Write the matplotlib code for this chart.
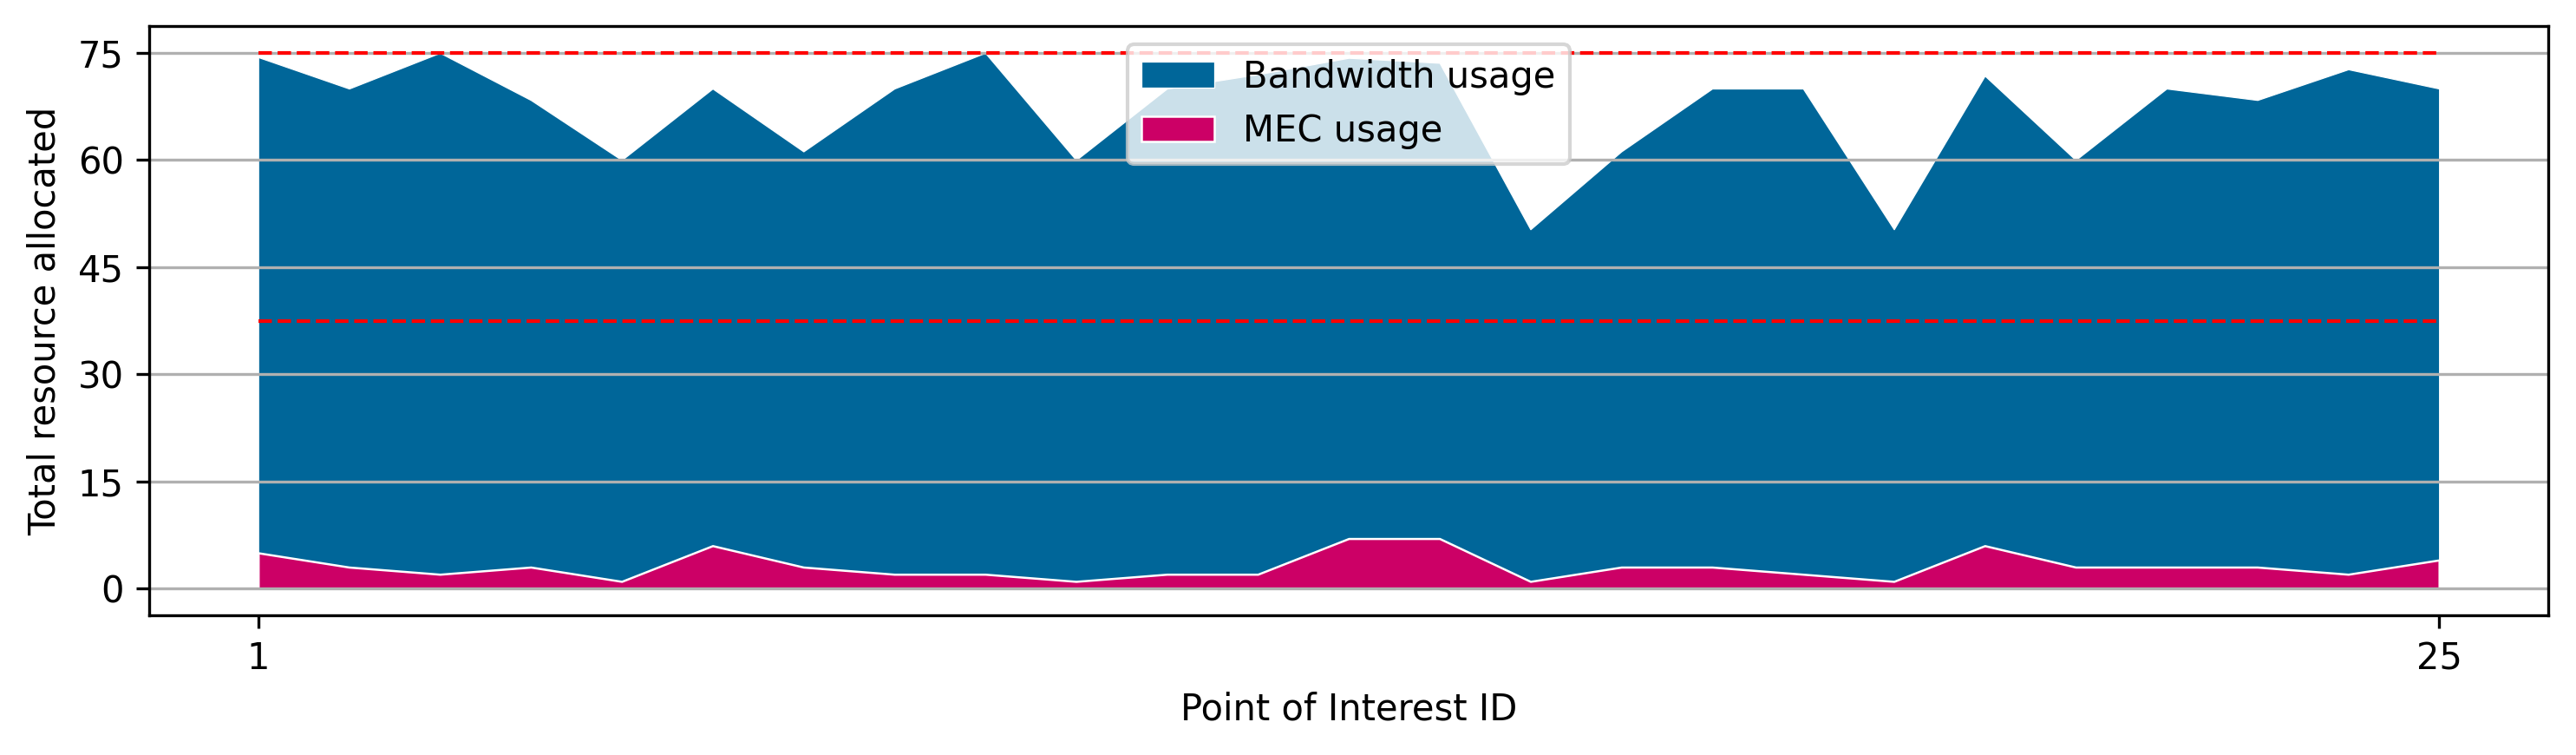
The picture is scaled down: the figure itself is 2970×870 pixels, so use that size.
import matplotlib
matplotlib.use("Agg")
import matplotlib.pyplot as plt
import numpy as np

poi_ids = list(range(1, 26))
bandwidth_usage = [74.4, 70, 75, 68.4, 60, 70, 61.2, 70, 75, 60,
                   70, 72, 74.3, 73.6, 50.3, 61.2, 70, 70, 50.3, 71.8,
                   60, 70, 68.4, 72.7, 70]
mec_usage = [5, 3, 2, 3, 1, 6, 3, 2, 2, 1,
             2, 2, 7, 7, 1, 3, 3, 2, 1, 6,
             3, 3, 3, 2, 4]
capacity = 75
half_capacity = 37.5
x_ticks = [1, 25]
y_ticks = [0, 15, 30, 45, 60, 75]

fig, ax = plt.subplots(figsize=(9.9, 2.9), dpi=300)
fig.subplots_adjust(left=0.0579, right=0.9892, top=0.9655, bottom=0.185)

ax.fill_between(poi_ids, bandwidth_usage, color="#006699", edgecolor="white",
                linewidth=0.3, label="Bandwidth usage")
ax.fill_between(poi_ids, mec_usage, color="#CC0066", edgecolor="white",
                linewidth=0.6, label="MEC usage")

ax.plot([poi_ids[0], poi_ids[-1]], [capacity, capacity], color="red",
        linestyle="--", linewidth=1)
ax.plot([poi_ids[0], poi_ids[-1]], [half_capacity, half_capacity], color="red",
        linestyle="--", linewidth=1)

ax.set_xticks(x_ticks)
ax.set_yticks(y_ticks)
ax.grid(axis="y")
ax.set_xlabel("Point of Interest ID")
ax.set_ylabel("Total resource allocated")
ax.legend(loc="upper center")

fig.savefig("out.png", dpi=300)
